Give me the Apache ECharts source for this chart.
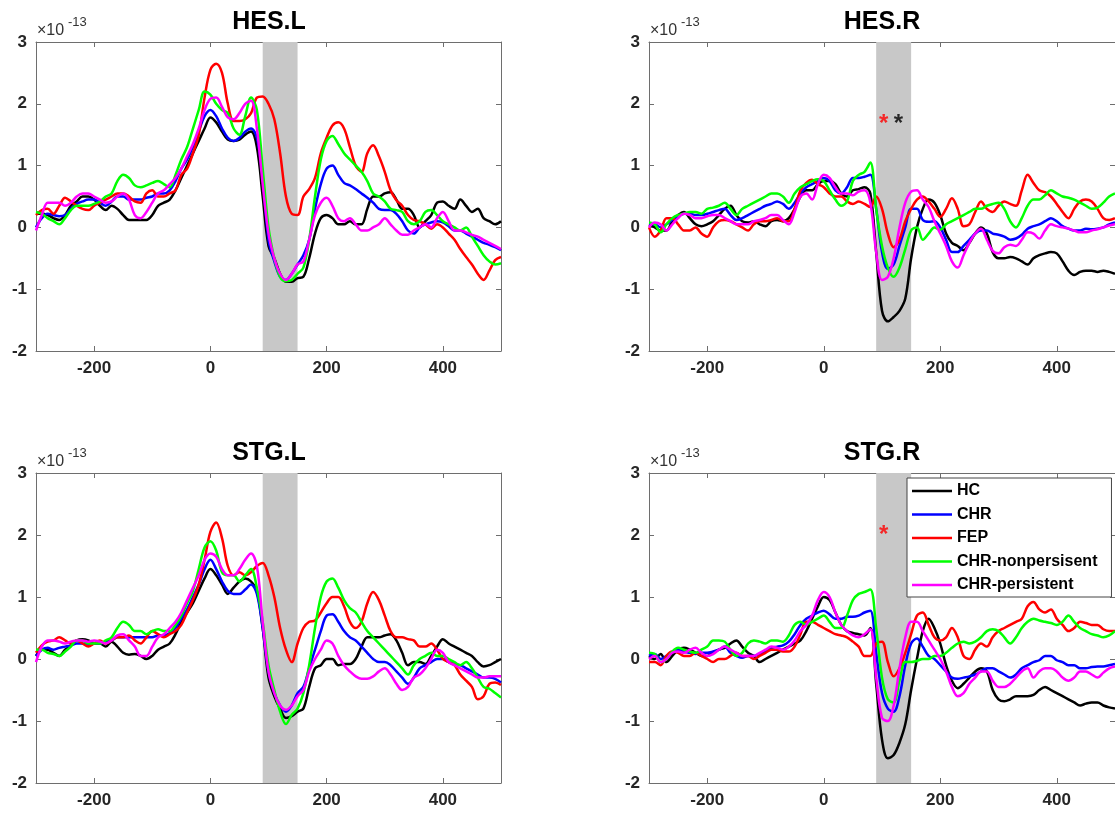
<!DOCTYPE html>
<html>
<head>
<meta charset="utf-8">
<script src="https://cdn.jsdelivr.net/npm/echarts@6/dist/echarts.min.js"></script>
<style>
html,body{margin:0;padding:0;background:#ffffff;}
#c{width:1115px;height:814px;}
</style>
</head>
<body>
<div id="c"></div>
<script>
// ---------- DATA ----------
const times = [-300,-290,-280,-270,-260,-250,-240,-230,-220,-210,
  -200,-190,-180,-170,-160,-150,-140,-130,-120,-110,
  -100,-90,-80,-70,-60,-50,-40,-30,-20,-10,
  0,10,20,30,40,50,60,70,80,90,
  100,110,120,130,140,150,160,170,180,190,
  200,210,220,230,240,250,260,270,280,290,
  300,310,320,330,340,350,360,370,380,390,
  400,410,420,430,440,450,460,470,480,490,500];

const groups = ['HC','CHR','FEP','CHR-nonpersisent','CHR-persistent'];
const groupColors = ['#000000','#0000ff','#ff0000','#00ff00','#ff00ff'];
const panelTitles = ['HES.L','HES.R','STG.L','STG.R'];
const xTicks = [-200,0,200,400];
const yTicks = [-2,-1,0,1,2,3];
const bandRange = [90,150];
const scaleLabel = ['\u00d710','-13'];

// HES.L
const hesL_HC = [0.22,0.22,0.2,0.15,0.12,0.2,0.35,0.42,0.5,0.5,
  0.45,0.35,0.28,0.35,0.3,0.2,0.12,0.12,0.12,0.12,
  0.2,0.35,0.4,0.45,0.6,0.8,1.0,1.2,1.4,1.6,
  1.78,1.7,1.55,1.42,1.4,1.42,1.5,1.55,1.3,0.5,
  -0.3,-0.5,-0.75,-0.88,-0.88,-0.82,-0.8,-0.5,-0.1,0.15,
  0.2,0.15,0.05,0.05,0.1,0.05,0.05,0.3,0.5,0.5,
  0.55,0.57,0.45,0.3,0.3,0.2,0.0,0.1,0.2,0.4,
  0.42,0.35,0.3,0.45,0.35,0.25,0.3,0.15,0.1,0.05,0.1];
const hesL_CHR = [0.0,0.15,0.22,0.2,0.18,0.2,0.3,0.38,0.42,0.45,
  0.45,0.4,0.35,0.42,0.5,0.5,0.45,0.45,0.45,0.48,
  0.5,0.55,0.55,0.6,0.75,0.95,1.1,1.3,1.55,1.8,
  1.9,1.8,1.6,1.45,1.4,1.45,1.55,1.6,1.45,0.8,
  -0.2,-0.55,-0.8,-0.85,-0.75,-0.6,-0.45,-0.2,0.3,0.7,
  0.95,1.0,0.85,0.72,0.68,0.62,0.55,0.48,0.4,0.3,
  0.28,0.28,0.22,0.1,-0.05,-0.1,0.0,0.05,0.08,0.1,
  0.08,0.02,-0.05,-0.05,-0.1,-0.15,-0.2,-0.25,-0.28,-0.32,-0.37];
const hesL_FEP = [0.2,0.28,0.3,0.22,0.35,0.48,0.42,0.35,0.3,0.28,
  0.35,0.4,0.45,0.5,0.55,0.55,0.5,0.42,0.4,0.55,
  0.6,0.5,0.5,0.55,0.6,0.85,0.95,1.2,1.5,2.1,
  2.55,2.65,2.5,2.0,1.72,1.72,1.75,1.85,2.1,2.12,
  2.0,1.75,1.2,0.5,0.22,0.2,0.5,0.62,0.8,1.2,
  1.45,1.65,1.7,1.6,1.3,1.0,0.9,1.2,1.33,1.15,
  0.9,0.6,0.44,0.35,0.2,0.12,0.1,0.05,-0.02,0.05,
  0.0,-0.1,-0.2,-0.35,-0.48,-0.6,-0.75,-0.85,-0.7,-0.53,-0.48];
const hesL_NP = [0.25,0.22,0.15,0.1,0.05,0.15,0.28,0.35,0.35,0.35,
  0.38,0.42,0.5,0.55,0.75,0.85,0.8,0.68,0.65,0.68,
  0.72,0.75,0.7,0.65,0.85,1.1,1.3,1.6,1.9,2.2,
  2.15,2.0,1.9,1.85,1.6,1.5,1.8,2.1,1.9,0.95,
  0.0,-0.5,-0.8,-0.87,-0.85,-0.75,-0.65,-0.2,0.5,1.1,
  1.4,1.48,1.35,1.2,1.1,1.0,0.9,0.75,0.55,0.5,
  0.42,0.3,0.28,0.25,0.1,0.05,0.1,0.25,0.28,0.2,
  0.1,0.05,0.0,-0.05,0.0,-0.15,-0.3,-0.45,-0.55,-0.6,-0.58];
const hesL_P = [-0.05,0.2,0.4,0.4,0.4,0.35,0.4,0.5,0.55,0.55,
  0.5,0.45,0.4,0.42,0.5,0.55,0.45,0.2,0.15,0.25,
  0.4,0.55,0.6,0.7,0.8,0.95,1.15,1.35,1.6,1.9,
  2.08,2.1,1.95,1.78,1.75,1.85,2.0,2.05,1.6,0.7,
  -0.1,-0.5,-0.75,-0.85,-0.75,-0.6,-0.55,-0.2,0.2,0.4,
  0.48,0.35,0.15,0.1,0.15,0.05,-0.05,-0.05,0.0,0.05,
  0.15,0.05,-0.05,-0.12,-0.12,-0.05,0.0,0.05,0.0,0.15,
  0.25,0.1,-0.05,-0.05,-0.08,-0.12,-0.15,-0.2,-0.25,-0.3,-0.35];

// HES.R
const hesR_HC = [0.05,0.0,-0.05,-0.05,0.1,0.2,0.25,0.15,0.05,0.02,
  0.05,0.1,0.2,0.3,0.35,0.2,0.1,0.08,0.1,0.05,
  0.02,0.1,0.12,0.1,0.15,0.3,0.5,0.6,0.6,0.7,
  0.75,0.75,0.7,0.55,0.5,0.6,0.62,0.65,0.55,-0.4,
  -1.35,-1.52,-1.45,-1.35,-1.15,-0.5,0.0,0.3,0.45,0.4,
  0.2,-0.1,-0.25,-0.3,-0.37,-0.25,-0.1,0.0,-0.1,-0.4,
  -0.5,-0.5,-0.48,-0.5,-0.55,-0.6,-0.5,-0.45,-0.42,-0.4,
  -0.42,-0.55,-0.7,-0.77,-0.72,-0.7,-0.7,-0.72,-0.7,-0.72,-0.75];
const hesR_CHR = [0.05,0.05,0.0,0.05,0.12,0.18,0.22,0.22,0.2,0.2,
  0.22,0.25,0.28,0.3,0.2,0.12,0.15,0.2,0.25,0.3,
  0.35,0.38,0.42,0.38,0.3,0.4,0.55,0.65,0.7,0.75,
  0.8,0.75,0.6,0.55,0.65,0.8,0.8,0.82,0.85,0.3,
  -0.4,-0.67,-0.6,-0.3,0.0,0.3,0.3,0.12,0.09,0.1,
  0.0,-0.2,-0.4,-0.4,-0.3,-0.2,-0.1,-0.05,-0.05,-0.1,
  -0.12,-0.15,-0.2,-0.18,-0.12,-0.02,0.02,0.05,0.1,0.15,
  0.1,0.02,-0.02,-0.05,-0.05,-0.02,-0.03,-0.02,0.0,0.05,0.08];
const hesR_FEP = [0.0,-0.15,-0.05,0.15,0.15,0.05,-0.05,-0.05,0.0,-0.1,
  -0.15,0.0,0.1,0.12,0.1,0.05,0.0,-0.05,0.05,0.1,
  0.1,0.12,0.15,0.1,0.1,0.3,0.6,0.72,0.77,0.7,
  0.65,0.55,0.5,0.5,0.42,0.38,0.42,0.38,0.33,0.5,
  0.3,-0.1,-0.32,-0.2,0.1,0.3,0.45,0.5,0.42,0.3,
  0.17,0.3,0.47,0.3,0.02,0.05,0.25,0.42,0.3,0.25,
  0.35,0.42,0.38,0.35,0.6,0.85,0.72,0.6,0.57,0.5,
  0.38,0.25,0.15,0.3,0.42,0.45,0.42,0.3,0.15,0.12,0.15];
const hesR_NP = [0.08,0.05,-0.08,0.05,0.15,0.2,0.22,0.25,0.25,0.22,
  0.3,0.32,0.35,0.4,0.3,0.2,0.3,0.35,0.4,0.45,
  0.5,0.55,0.55,0.5,0.4,0.55,0.65,0.7,0.75,0.78,
  0.75,0.6,0.45,0.35,0.42,0.75,0.85,0.9,1.05,0.3,
  -0.3,-0.65,-0.8,-0.65,-0.35,-0.05,0.0,-0.2,-0.1,0.0,
  -0.04,0.05,0.1,0.15,0.2,0.25,0.3,0.3,0.35,0.38,
  0.4,0.3,0.1,0.0,0.15,0.35,0.45,0.45,0.52,0.6,
  0.55,0.5,0.48,0.45,0.4,0.35,0.3,0.32,0.4,0.5,0.55];
const hesR_P = [0.0,0.08,0.05,-0.05,0.05,0.15,0.22,0.2,0.15,0.15,
  0.18,0.2,0.2,0.15,0.1,0.05,0.05,0.05,0.1,0.12,
  0.15,0.2,0.2,0.12,0.05,0.25,0.5,0.55,0.45,0.7,
  0.85,0.8,0.65,0.55,0.55,0.52,0.58,0.6,0.4,-0.4,
  -0.85,-0.8,-0.5,0.0,0.4,0.58,0.6,0.45,0.33,0.1,
  -0.1,-0.3,-0.55,-0.65,-0.45,-0.25,-0.1,-0.02,-0.2,-0.38,
  -0.42,-0.32,-0.28,-0.3,-0.2,-0.08,-0.1,-0.18,-0.05,0.05,
  0.02,0.0,-0.02,-0.05,-0.08,-0.08,-0.05,-0.03,0.0,0.03,0.05];

// STG.L
const stgL_HC = [0.05,0.15,0.15,0.1,0.05,0.15,0.22,0.3,0.32,0.3,
  0.25,0.25,0.2,0.28,0.2,0.1,0.07,0.08,0.05,0.0,
  0.05,0.15,0.2,0.25,0.4,0.6,0.75,0.9,1.1,1.3,
  1.45,1.35,1.2,1.05,1.15,1.25,1.3,1.25,1.1,0.5,
  -0.3,-0.6,-0.8,-0.95,-0.92,-0.85,-0.8,-0.45,-0.15,-0.1,
  0.0,0.0,-0.1,-0.08,-0.08,0.0,0.2,0.35,0.35,0.35,
  0.38,0.4,0.3,0.1,-0.1,-0.05,-0.05,-0.08,0.05,0.2,
  0.32,0.25,0.2,0.15,0.1,0.05,-0.05,-0.12,-0.1,-0.05,0.0];
const stgL_CHR = [0.05,0.15,0.18,0.15,0.18,0.2,0.22,0.25,0.25,0.22,
  0.25,0.25,0.28,0.3,0.35,0.35,0.35,0.35,0.35,0.35,
  0.35,0.38,0.38,0.42,0.5,0.65,0.8,1.0,1.2,1.45,
  1.6,1.45,1.25,1.1,1.05,1.05,1.12,1.2,1.05,0.5,
  -0.2,-0.55,-0.75,-0.85,-0.75,-0.55,-0.45,-0.15,0.15,0.45,
  0.7,0.72,0.6,0.45,0.35,0.3,0.2,0.1,0.0,-0.05,
  -0.05,-0.1,-0.2,-0.3,-0.4,-0.3,-0.15,-0.1,-0.05,0.0,
  0.0,-0.05,-0.08,-0.1,-0.15,-0.2,-0.25,-0.3,-0.3,-0.32,-0.38];
const stgL_FEP = [0.1,0.22,0.28,0.3,0.35,0.3,0.25,0.3,0.25,0.2,
  0.25,0.3,0.25,0.3,0.35,0.35,0.38,0.3,0.25,0.35,
  0.45,0.4,0.35,0.4,0.45,0.55,0.75,0.95,1.2,1.6,
  2.05,2.2,1.95,1.5,1.35,1.4,1.35,1.4,1.5,1.55,
  1.35,1.0,0.5,0.15,-0.05,0.25,0.5,0.6,0.62,0.75,
  0.9,1.0,1.0,0.85,0.6,0.5,0.6,0.9,1.08,0.95,
  0.7,0.45,0.35,0.35,0.32,0.3,0.2,0.2,0.25,0.15,
  0.0,-0.05,-0.1,-0.25,-0.35,-0.45,-0.65,-0.6,-0.4,-0.38,-0.42];
const stgL_NP = [0.15,0.15,0.1,0.08,0.05,0.12,0.2,0.3,0.3,0.25,
  0.25,0.25,0.3,0.35,0.5,0.6,0.55,0.45,0.45,0.4,
  0.45,0.48,0.45,0.45,0.55,0.7,0.9,1.1,1.45,1.8,
  1.9,1.75,1.4,1.35,1.35,1.25,1.35,1.45,1.15,0.6,
  -0.1,-0.5,-0.85,-1.05,-0.9,-0.8,-0.55,-0.1,0.5,1.0,
  1.25,1.3,1.15,0.95,0.82,0.75,0.6,0.45,0.35,0.25,
  0.15,0.05,-0.05,-0.15,-0.25,-0.1,0.0,0.05,0.1,0.05,
  0.05,0.0,-0.05,-0.1,-0.05,-0.15,-0.3,-0.45,-0.48,-0.55,-0.62];
const stgL_P = [-0.05,0.2,0.3,0.3,0.28,0.25,0.28,0.3,0.3,0.28,
  0.3,0.28,0.25,0.3,0.38,0.4,0.3,0.2,0.05,0.05,
  0.2,0.35,0.4,0.5,0.6,0.75,0.95,1.15,1.35,1.6,
  1.7,1.65,1.45,1.35,1.35,1.45,1.6,1.7,1.5,0.6,
  -0.2,-0.55,-0.75,-0.82,-0.75,-0.6,-0.5,-0.2,0.0,0.15,
  0.3,0.25,0.05,-0.1,-0.2,-0.28,-0.32,-0.32,-0.28,-0.2,
  -0.15,-0.25,-0.4,-0.5,-0.45,-0.3,-0.25,-0.15,0.0,0.15,
  0.1,-0.05,-0.1,-0.15,-0.2,-0.25,-0.3,-0.3,-0.28,-0.28,-0.28];

// STG.R
const stgR_HC = [0.05,0.0,0.08,-0.05,0.05,0.15,0.18,0.15,0.1,0.05,
  0.05,0.1,0.15,0.18,0.25,0.3,0.2,0.1,0.05,-0.05,
  0.0,0.05,0.1,0.15,0.2,0.25,0.3,0.45,0.65,0.85,
  1.0,0.95,0.75,0.55,0.45,0.42,0.4,0.38,0.5,-0.4,
  -1.3,-1.6,-1.55,-1.35,-1.05,-0.5,0.0,0.45,0.65,0.5,
  0.25,-0.1,-0.35,-0.47,-0.4,-0.3,-0.2,-0.15,-0.2,-0.5,
  -0.65,-0.68,-0.65,-0.6,-0.6,-0.6,-0.58,-0.5,-0.45,-0.5,
  -0.55,-0.6,-0.65,-0.7,-0.75,-0.72,-0.7,-0.7,-0.75,-0.78,-0.8];
const stgR_CHR = [0.05,0.08,0.0,0.05,0.1,0.15,0.12,0.1,0.08,0.1,
  0.1,0.12,0.15,0.2,0.1,0.05,0.02,0.05,0.05,0.08,
  0.12,0.18,0.2,0.22,0.28,0.4,0.55,0.65,0.7,0.75,
  0.78,0.72,0.65,0.65,0.68,0.68,0.7,0.75,0.78,0.1,
  -0.55,-0.8,-0.85,-0.6,-0.1,0.25,0.33,0.2,0.05,0.0,
  -0.1,-0.2,-0.3,-0.32,-0.3,-0.28,-0.25,-0.2,-0.15,-0.15,
  -0.2,-0.25,-0.3,-0.25,-0.15,-0.1,-0.05,-0.02,0.05,0.05,
  -0.02,-0.05,-0.1,-0.1,-0.15,-0.15,-0.13,-0.12,-0.12,-0.1,-0.08];
const stgR_FEP = [-0.05,-0.05,-0.1,0.05,0.12,0.1,0.05,0.05,0.1,0.05,
  0.0,-0.05,0.0,0.0,0.05,0.1,0.05,0.05,0.0,0.05,
  0.1,0.15,0.15,0.12,0.12,0.2,0.4,0.6,0.6,0.55,
  0.5,0.45,0.4,0.38,0.35,0.28,0.2,0.05,0.05,0.25,
  0.28,-0.05,-0.28,-0.15,0.1,0.4,0.7,0.75,0.55,0.35,
  0.3,0.35,0.5,0.35,0.05,0.0,0.15,0.25,0.2,0.35,
  0.45,0.5,0.55,0.6,0.65,0.85,0.92,0.8,0.75,0.8,
  0.65,0.55,0.45,0.5,0.6,0.58,0.55,0.55,0.48,0.45,0.45];
const stgR_NP = [0.1,0.08,-0.05,0.0,0.12,0.18,0.15,0.12,0.1,0.15,
  0.2,0.3,0.3,0.28,0.15,0.05,0.1,0.25,0.3,0.28,
  0.25,0.3,0.3,0.28,0.38,0.55,0.6,0.55,0.6,0.65,
  0.7,0.6,0.5,0.5,0.7,0.95,1.05,1.08,1.12,0.5,
  -0.3,-0.65,-0.7,-0.35,-0.05,-0.05,-0.03,0.0,0.0,0.05,
  0.05,0.1,0.18,0.25,0.28,0.25,0.28,0.35,0.45,0.48,
  0.45,0.35,0.25,0.35,0.5,0.6,0.65,0.62,0.6,0.58,
  0.55,0.6,0.7,0.6,0.5,0.45,0.4,0.38,0.35,0.38,0.45];
const stgR_P = [0.0,0.05,-0.05,0.0,0.1,0.12,0.1,0.15,0.18,0.1,
  0.05,0.08,0.15,0.2,0.15,0.1,0.05,0.05,0.05,0.1,
  0.15,0.2,0.18,0.15,0.2,0.3,0.45,0.55,0.7,0.95,
  1.08,1.0,0.75,0.55,0.45,0.38,0.35,0.4,0.48,-0.3,
  -0.95,-1.0,-0.75,-0.15,0.35,0.6,0.6,0.45,0.3,0.15,
  0.0,-0.2,-0.45,-0.6,-0.55,-0.4,-0.3,-0.2,-0.2,-0.35,
  -0.45,-0.45,-0.4,-0.3,-0.2,-0.15,-0.3,-0.2,-0.15,-0.15,
  -0.2,-0.3,-0.35,-0.3,-0.2,-0.2,-0.25,-0.3,-0.22,-0.15,-0.12];

// significance markers: [panel index, time, value, colour index]
const starPanels = [1, 1, 3];
const starTimes = [103, 128, 103];
const starValues = [1.74, 1.74, 2.08];
const starColorIdx = [2, 0, 2];

// ---------- CHART ----------
const panelData = [
  [hesL_HC, hesL_CHR, hesL_FEP, hesL_NP, hesL_P],
  [hesR_HC, hesR_CHR, hesR_FEP, hesR_NP, hesR_P],
  [stgL_HC, stgL_CHR, stgL_FEP, stgL_NP, stgL_P],
  [stgR_HC, stgR_CHR, stgR_FEP, stgR_NP, stgR_P]
];
const FONT = '"Liberation Sans", Arial, Helvetica, sans-serif';
const AXC = '#6e6e6e';
const layout = [
  {left: 36, top: 42, width: 465, height: 309},
  {left: 649, top: 42, width: 468, height: 309},
  {left: 36, top: 473, width: 465, height: 310},
  {left: 649, top: 473, width: 468, height: 310}
];

const grid = [], xAxis = [], yAxis = [], series = [], graphic = [];

panelData.forEach((arrs, i) => {
  const g = layout[i];
  grid.push({left: g.left, top: g.top, width: g.width, height: g.height, show: false});
  const xi = xAxis.length, yi = yAxis.length;
  const xBase = {
    gridIndex: i, type: 'value', min: -300, max: 500,
    splitLine: {show: false},
    axisLine: {show: true, onZero: false, lineStyle: {color: AXC, width: 1}},
    axisTick: {show: true, inside: true, length: 5, customValues: xTicks, lineStyle: {color: AXC, width: 1}}
  };
  xAxis.push(Object.assign({}, xBase, {position: 'bottom',
    axisLabel: {show: true, customValues: xTicks, fontSize: 17, fontWeight: 'bold', color: '#262626', margin: 9, fontFamily: FONT}}));
  xAxis.push(Object.assign({}, xBase, {position: 'top', axisLabel: {show: false}}));
  const yBase = {
    gridIndex: i, type: 'value', min: yTicks[0], max: yTicks[yTicks.length - 1], interval: 1,
    splitLine: {show: false},
    axisLine: {show: true, onZero: false, lineStyle: {color: AXC, width: 1}},
    axisTick: {show: true, inside: true, length: 5, lineStyle: {color: AXC, width: 1}}
  };
  yAxis.push(Object.assign({}, yBase, {position: 'left',
    axisLabel: {show: true, fontSize: 17, fontWeight: 'bold', color: '#262626', margin: 9, fontFamily: FONT}}));
  yAxis.push(Object.assign({}, yBase, {position: 'right', axisLabel: {show: false}}));

  // grey analysis window
  series.push({
    type: 'line', name: 'band' + i, xAxisIndex: xi, yAxisIndex: yi, data: [], z: 1, silent: true,
    markArea: {silent: true, itemStyle: {color: '#c8c8c8'},
      data: [[{xAxis: bandRange[0]}, {xAxis: bandRange[1]}]]}
  });

  arrs.forEach((arr, k) => {
    series.push({
      type: 'line', name: groups[k], xAxisIndex: xi, yAxisIndex: yi,
      data: times.map((t, j) => [t, arr[j]]),
      showSymbol: false, symbol: 'none', smooth: 0.35,
      lineStyle: {width: 2.5, color: groupColors[k]},
      itemStyle: {color: groupColors[k]},
      emphasis: {disabled: true},
      z: 3 + k
    });
  });

  // title
  graphic.push({type: 'text', x: g.left + 233, y: g.top - 20, silent: true,
    style: {text: panelTitles[i], font: 'bold 25px ' + FONT, fill: '#000', align: 'center', verticalAlign: 'middle'}});
  // exponent label
  graphic.push({type: 'text', x: g.left + 1, y: g.top - 11, silent: true,
    style: {text: scaleLabel[0], font: '16px ' + FONT, fill: '#333', align: 'left', verticalAlign: 'middle'}});
  graphic.push({type: 'text', x: g.left + 32, y: g.top - 20, silent: true,
    style: {text: scaleLabel[1], font: '13px ' + FONT, fill: '#333', align: 'left', verticalAlign: 'middle'}});
});

// significance asterisks
starPanels.forEach((p, s) => {
  series.push({
    type: 'scatter', name: 'star' + s, xAxisIndex: 2 * p, yAxisIndex: 2 * p,
    data: [[starTimes[s], starValues[s]]],
    symbolSize: 1, itemStyle: {color: 'rgba(0,0,0,0)'}, silent: true, z: 10,
    label: {show: true, formatter: '*', position: 'inside', offset: [0, 5],
      fontSize: 24, fontWeight: 'bold', fontFamily: FONT, color: groupColors[starColorIdx[s]]}
  });
});

const chart = echarts.init(document.getElementById('c'), null, {renderer: 'canvas'});
chart.setOption({
  animation: false,
  backgroundColor: '#ffffff',
  grid: grid, xAxis: xAxis, yAxis: yAxis, series: series, graphic: graphic,
  legend: {
    data: groups, orient: 'vertical', left: 907, top: 478,
    icon: 'rect', itemWidth: 40, itemHeight: 2.5, itemGap: 7.5, itemTextGap: 3,
    padding: [5, 14, 4, 5],
    borderColor: '#444', borderWidth: 1, backgroundColor: '#ffffff',
    selectedMode: false,
    textStyle: {fontSize: 16, fontWeight: 'bold', color: '#000', fontFamily: FONT, lineHeight: 15}
  }
});
</script>
</body>
</html>
